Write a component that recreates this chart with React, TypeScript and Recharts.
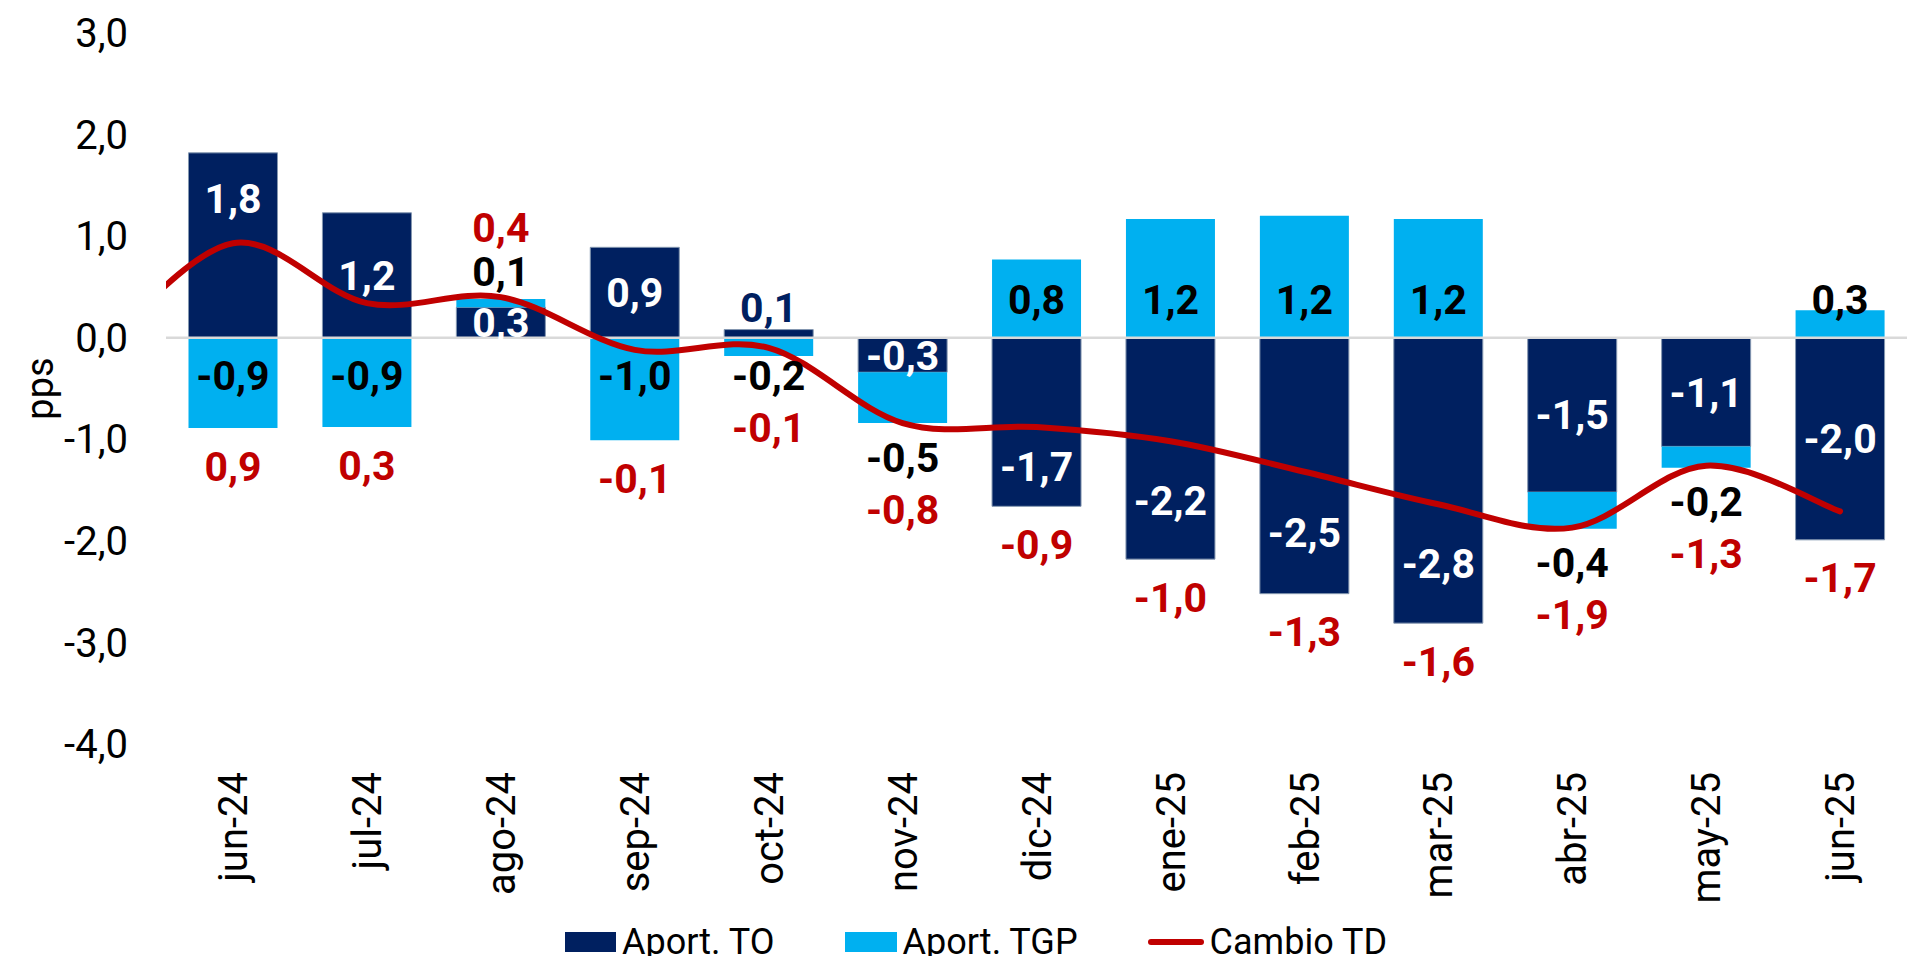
import React from 'react';
import { ComposedChart, Bar, Line, XAxis, YAxis, ReferenceLine, LabelList } from 'recharts';

// ---------- data ----------
const months = ['jun-24', 'jul-24', 'ago-24', 'sep-24', 'oct-24', 'nov-24', 'dic-24', 'ene-25', 'feb-25', 'mar-25', 'abr-25', 'may-25', 'jun-25'];
const aportTO = [1.82, 1.23, 0.30, 0.89, 0.08, -0.34, -1.66, -2.18, -2.52, -2.81, -1.52, -1.07, -1.99];
const aportTGP = [-0.89, -0.88, 0.08, -1.01, -0.18, -0.50, 0.77, 1.17, 1.20, 1.17, -0.36, -0.21, 0.27];
const cambioTD = [0.93, 0.34, 0.40, -0.12, -0.10, -0.84, -0.88, -1.02, -1.32, -1.64, -1.87, -1.26, -1.71];
// previous month (may-24): only the segment toward jun-24 is visible at the left edge
const cambioTDPrevious = -0.12;
const yTicks = [3, 2, 1, 0, -1, -2, -3, -4];
const seriesNames = ['Aport. TO', 'Aport. TGP', 'Cambio TD'];

const barData = months.map((m, i) => ({ m, to: aportTO[i], tgp: aportTGP[i] }));
const lineData = [{ i: -1, td: cambioTDPrevious }, ...cambioTD.map((td, i) => ({ i, td }))];

// ---------- styles ----------
const NAVY = '#002060';
const LIGHT = '#00B0F0';
const RED = '#C00000';
const FONT = 'Roboto, "Noto Sans", "DejaVu Sans", sans-serif';
const W = 1909;
const H = 948;

const fmt = (v: number) => v.toFixed(1).replace('.', ',');

// Excel-like smoothed line (Catmull-Rom through the points)
function excelSmooth(context: any) {
  let pts: number[][] = [];
  return {
    areaStart() {},
    areaEnd() {},
    lineStart() {
      pts = [];
    },
    point(x: number, y: number) {
      pts.push([+x, +y]);
    },
    lineEnd() {
      const n = pts.length;
      if (!n) return;
      context.moveTo(pts[0][0], pts[0][1]);
      for (let i = 0; i < n - 1; i++) {
        const p0 = pts[i - 1] || pts[i];
        const p1 = pts[i];
        const p2 = pts[i + 1];
        const p3 = pts[i + 2] || p2;
        context.bezierCurveTo(
          p1[0] + (p2[0] - p0[0]) / 6,
          p1[1] + (p2[1] - p0[1]) / 6,
          p2[0] - (p3[0] - p1[0]) / 6,
          p2[1] - (p3[1] - p1[1]) / 6,
          p2[0],
          p2[1]
        );
      }
    },
  };
}

function labelText(key: string, x: number, y: number, s: string, color: string) {
  return (
    <text key={key} x={x} y={y} dy="0.355em" textAnchor="middle" fill={color} fontFamily={FONT} fontSize={41} fontWeight={700}>
      {s}
    </text>
  );
}

// All labels of one column, positioned from the geometry of the TGP segment
function ColumnLabels(props: any) {
  const idx: number = props.index;
  const vb = props.viewBox && props.viewBox.width !== undefined ? props.viewBox : props;
  const x = Number(vb.x);
  const y = Number(vb.y);
  const w = Number(vb.width);
  const h = Number(vb.height);
  if (idx == null || !isFinite(x) || !isFinite(y)) return null;
  const to = aportTO[idx];
  const tgp = aportTGP[idx];
  const td = cambioTD[idx];
  const top = Math.min(y, y + h);
  const bottom = Math.max(y, y + h);
  const ppu = (bottom - top) / Math.abs(tgp);
  const same = Math.sign(to) === Math.sign(tgp);
  const baseVal = same ? to : 0;
  const basePx = tgp > 0 ? bottom : top;
  const zero = basePx + baseVal * ppu;
  const P = (v: number) => zero - v * ppu;
  const cx = x + w / 2;

  // TO label
  let toY: number;
  let toColor = '#FFFFFF';
  if (Math.abs(to) < 0.2) {
    toY = to > 0 ? P(to) - 22 : P(to) + 22;
    toColor = NAVY;
  } else {
    toY = P(to / 2);
    if (Math.abs(to) >= 0.5 && Math.abs(to / 2 - td) < 0.26) toY = P((td + to) / 2);
  }

  // TGP label
  let tgpY: number;
  if (!same) tgpY = tgp > 0 ? zero - 38 : zero + 38;
  else tgpY = tgp > 0 ? P(to + tgp) - 28 : P(to + tgp) + 34;

  // TD label
  const negSum = Math.min(0, to) + Math.min(0, tgp);
  const posSum = Math.max(0, to) + Math.max(0, tgp);
  let tdY: number;
  if (negSum < 0) {
    tdY = P(negSum) + 38;
    if (tgp < 0) tdY = Math.max(tdY, tgpY + 52);
  } else {
    tdY = Math.min(P(posSum) - 36, tgpY - 44);
  }

  return (
    <g>
      {labelText('to', cx, toY, fmt(to), toColor)}
      {labelText('tgp', cx, tgpY, fmt(tgp), '#000000')}
      {labelText('td', cx, tdY, fmt(td), RED)}
    </g>
  );
}

const XTick = (p: any) => (
  <text
    x={p.x}
    y={p.y}
    transform={`rotate(-90 ${p.x} ${p.y})`}
    textAnchor="end"
    dy="0.355em"
    fontSize={40}
    fontFamily={FONT}
    fill="#000000"
  >
    {p.payload.value}
  </text>
);

const YLabel = (p: any) => {
  const vb = p.viewBox || { x: 0, y: 25, width: 158, height: 711 };
  const lx = vb.x + 45;
  const ly = vb.y + vb.height / 2;
  return (
    <text x={lx} y={ly} transform={`rotate(-90 ${lx} ${ly})`} textAnchor="middle" fontSize={38} fontFamily={FONT} fill="#000000">
      pps
    </text>
  );
};

function Legend() {
  const item = (swatch: React.ReactNode, label: string, mr: number) => (
    <div style={{ display: 'flex', alignItems: 'center', marginRight: mr }}>
      {swatch}
      <span style={{ marginLeft: 6, fontSize: 36, fontFamily: FONT, color: '#000', lineHeight: '40px' }}>{label}</span>
    </div>
  );
  return (
    <div style={{ position: 'absolute', left: 557, top: 914, display: 'flex', alignItems: 'center' }}>
      {item(<div style={{ width: 51, height: 20, background: NAVY }} />, seriesNames[0], 70)}
      {item(<div style={{ width: 52, height: 20, background: LIGHT }} />, seriesNames[1], 70)}
      {item(<div style={{ width: 56, height: 6, background: RED, borderRadius: 3 }} />, seriesNames[2], 0)}
    </div>
  );
}

export default function App() {
  return (
    <div style={{ position: 'relative', width: W, height: H, fontFamily: FONT }}>
      <ComposedChart
        width={W}
        height={H}
        data={barData}
        stackOffset="sign"
        barCategoryGap="16.8%"
        margin={{ top: 25, right: 10, bottom: 0, left: 0 }}
      >
        <XAxis
          dataKey="m"
          height={212}
          axisLine={false}
          tickLine={false}
          tickSize={6}
          tickMargin={22}
          interval={0}
          tick={XTick}
        />
        <XAxis xAxisId="num" type="number" dataKey="i" domain={[-0.5, 12.5]} allowDataOverflow hide />
        <YAxis
          domain={[-4, 3]}
          ticks={yTicks}
          width={158}
          axisLine={false}
          tickLine={false}
          tickSize={6}
          tickMargin={32}
          interval={0}
          tickFormatter={(v: number) => fmt(v)}
          tick={{ fill: '#000000', fontSize: 40, fontFamily: FONT }}
          label={YLabel}
          allowDataOverflow
        />
        <ReferenceLine y={0} stroke="#D9D9D9" strokeWidth={2.5} />
        <Bar dataKey="to" stackId="s" fill={NAVY} stroke="#8497B0" strokeWidth={1} isAnimationActive={false} />
        <Bar dataKey="tgp" stackId="s" fill={LIGHT} isAnimationActive={false}>
          <LabelList dataKey="tgp" content={(p: any) => <ColumnLabels {...p} />} />
        </Bar>
        <Line
          xAxisId="num"
          data={lineData}
          dataKey="td"
          type={excelSmooth as any}
          stroke={RED}
          strokeWidth={6}
          strokeLinecap="round"
          dot={false}
          activeDot={false}
          isAnimationActive={false}
        />
      </ComposedChart>
      <Legend />
    </div>
  );
}
